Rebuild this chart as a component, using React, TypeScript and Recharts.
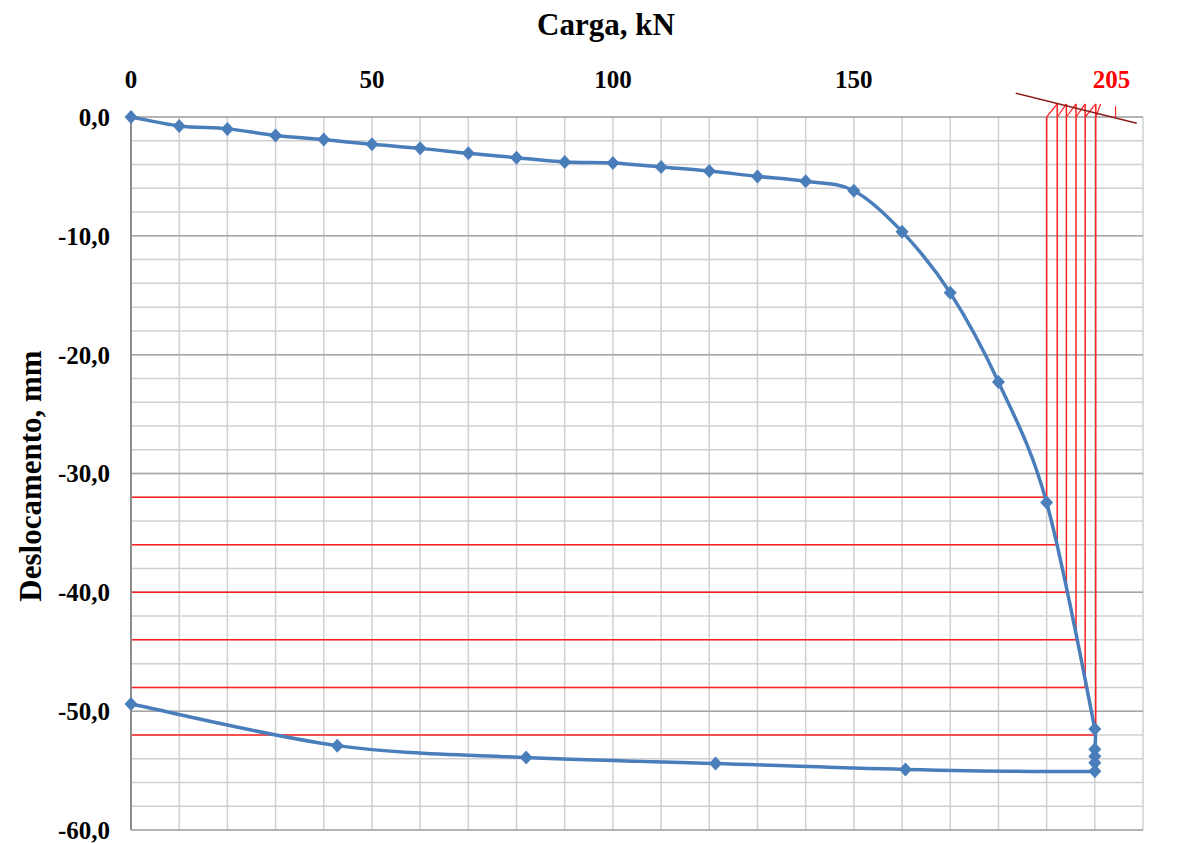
import React from 'react';
import { LineChart, Line, XAxis, YAxis, CartesianGrid, ReferenceLine } from 'recharts';

// Load test: load (kN) against settlement (mm), loading, hold at 200 kN, unloading
const loads = [0, 10, 20, 30, 40, 50, 60, 70, 80, 90, 100, 110, 120, 130, 140, 150, 160, 170, 180, 190, 200, 200, 200, 200, 200, 160.7, 121.3, 82, 42.8, 0];
const displacements = [0, -0.75, -1.0, -1.55, -1.9, -2.3, -2.64, -3.06, -3.42, -3.79, -3.87, -4.21, -4.55, -5.0, -5.41, -6.2, -9.65, -14.8, -22.3, -32.45, -51.5, -53.2, -53.8, -54.35, -55.05, -54.9, -54.4, -53.9, -52.9, -49.4];

const xTicks = [0, 10, 20, 30, 40, 50, 60, 70, 80, 90, 100, 110, 120, 130, 140, 150, 160, 170, 180, 190, 200, 210];
const xLabelled = [0, 50, 100, 150];
const yTicks = [0, -2, -4, -6, -8, -10, -12, -14, -16, -18, -20, -22, -24, -26, -28, -30, -32, -34, -36, -38, -40, -42, -44, -46, -48, -50, -52, -54, -56, -58, -60];
const yMajor = [0, -10, -20, -30, -40, -50, -60];

// Construction lines for the failure load estimate
const constructionLevels = [-32, -36, -40, -44, -48, -52];
const constructionLoads = [190, 192.2, 194.1, 196.1, 198, 200.2];
const constructionTop = 1.1;
const diagonalStart = { x: 183.6, y: 2.0 };
const diagonalEnd = { x: 208.7, y: -0.53 };
const failureLoad = 204.3;
const failureLabel = '205';

const BLUE = '#4a7ebb';
const RED = '#ff2020';
const FONT = '"Liberation Serif", "Times New Roman", serif';

const data = loads.map((load, i) => ({ load, disp: displacements[i] }));

// Bezier smoothing in the spirit of spreadsheet "smoothed lines";
// handles are clamped so short segments next to long ones do not loop.
const smoothCurve = (context: any) => {
  let pts: [number, number][] = [];
  const clamp = (dx: number, dy: number, max: number): [number, number] => {
    const len = Math.hypot(dx, dy);
    if (len <= max || len === 0) return [dx, dy];
    return [(dx / len) * max, (dy / len) * max];
  };
  return {
    areaStart() {},
    areaEnd() {},
    lineStart() {
      pts = [];
    },
    point(x: number, y: number) {
      pts.push([+x, +y]);
    },
    lineEnd() {
      if (!pts.length) return;
      context.moveTo(pts[0][0], pts[0][1]);
      for (let i = 0; i < pts.length - 1; i++) {
        const p0 = pts[Math.max(i - 1, 0)];
        const p1 = pts[i];
        const p2 = pts[i + 1];
        const p3 = pts[Math.min(i + 2, pts.length - 1)];
        const seg = Math.hypot(p2[0] - p1[0], p2[1] - p1[1]);
        const t1 = clamp((p2[0] - p0[0]) / 6, (p2[1] - p0[1]) / 6, seg * 0.45);
        const t2 = clamp((p3[0] - p1[0]) / 6, (p3[1] - p1[1]) / 6, seg * 0.45);
        context.bezierCurveTo(p1[0] + t1[0], p1[1] + t1[1], p2[0] - t2[0], p2[1] - t2[1], p2[0], p2[1]);
      }
    },
  };
};

const Diamond = (props: any) => {
  const { cx, cy, index } = props;
  if (cx == null || cy == null) return <g key={index} />;
  return <path key={index} d={`M${cx},${cy - 7} L${cx + 6.5},${cy} L${cx},${cy + 7} L${cx - 6.5},${cy} Z`} fill={BLUE} />;
};

const fmtY = (v: number) => (v % 10 === 0 ? Math.abs(v) < 1e-9 ? '0,0' : v.toFixed(1).replace('.', ',') : '');
const fmtX = (v: number) => (xLabelled.includes(v) ? String(v) : '');

const tickStyle = { fontFamily: FONT, fontWeight: 'bold' as const, fontSize: 25, fill: '#000' };

export default function App() {
  return (
    <div style={{ position: 'absolute', left: 0, top: 0, width: 1181, height: 843, background: '#fff' }}>
      <LineChart width={1181} height={843} data={data} margin={{ top: 77, right: 38, bottom: 13, left: 31 }}>
        <CartesianGrid stroke="#d0d0d0" strokeWidth={1.5} />
        {yMajor.map((v) => (
          <ReferenceLine key={`major-${v}`} y={v} stroke="#a6a6a6" strokeWidth={1.5} />
        ))}
        <XAxis
          dataKey="load"
          type="number"
          orientation="top"
          domain={[0, 210]}
          ticks={xTicks}
          interval={0}
          tickFormatter={fmtX}
          height={40}
          tickLine={false}
          axisLine={false}
          tickMargin={23}
          tick={tickStyle}
        />
        <YAxis
          type="number"
          domain={[-60, 0]}
          ticks={yTicks}
          interval={0}
          tickFormatter={fmtY}
          width={100}
          tickLine={false}
          axisLine={{ stroke: '#8c8c8c', strokeWidth: 2 }}
          tickMargin={15}
          tick={tickStyle}
        />
        {constructionLevels.map((level, i) => (
          <ReferenceLine
            key={`h-${level}`}
            segment={[{ x: 0, y: level }, { x: constructionLoads[i], y: level }]}
            stroke={RED}
            strokeWidth={1.5}
            ifOverflow="visible"
          />
        ))}
        {constructionLoads.map((load, i) => (
          <ReferenceLine
            key={`v-${i}`}
            segment={[{ x: load, y: constructionLevels[i] }, { x: load, y: i === 0 ? 0 : constructionTop }]}
            stroke={RED}
            strokeWidth={1.5}
            ifOverflow="visible"
          />
        ))}
        {constructionLoads.slice(0, -1).map((load, i) => (
          <ReferenceLine
            key={`s-${i}`}
            segment={[{ x: load, y: 0 }, { x: constructionLoads[i + 1], y: constructionTop }]}
            stroke={RED}
            strokeWidth={1.2}
            ifOverflow="visible"
          />
        ))}
        <ReferenceLine
          segment={[{ x: constructionLoads[constructionLoads.length - 1], y: 0 }, { x: constructionLoads[constructionLoads.length - 1] + 1, y: constructionTop }]}
          stroke={RED}
          strokeWidth={1.2}
          ifOverflow="visible"
        />
        <ReferenceLine segment={[diagonalStart, diagonalEnd]} stroke="#8b1c1c" strokeWidth={1.5} ifOverflow="visible" />
        <ReferenceLine
          segment={[{ x: failureLoad, y: 0 }, { x: failureLoad, y: 0.9 }]}
          stroke={RED}
          strokeWidth={1.2}
          ifOverflow="visible"
          label={{ value: failureLabel, position: 'top', offset: 18, dx: -4, fill: '#ff0000', fontSize: 25, fontWeight: 'bold', fontFamily: FONT }}
        />
        <Line
          dataKey="disp"
          type={smoothCurve as any}
          stroke={BLUE}
          strokeWidth={3.5}
          dot={Diamond}
          activeDot={false}
          isAnimationActive={false}
        />
      </LineChart>
      <svg width={1181} height={843} style={{ position: 'absolute', left: 0, top: 0, pointerEvents: 'none' }}>
        <text x={606} y={35} textAnchor="middle" fontFamily={FONT} fontWeight="bold" fontSize={31} fill="#000">
          Carga, kN
        </text>
        <text transform="translate(41,476) rotate(-90)" textAnchor="middle" fontFamily={FONT} fontWeight="bold" fontSize={31} fill="#000">
          Deslocamento, mm
        </text>
      </svg>
    </div>
  );
}
